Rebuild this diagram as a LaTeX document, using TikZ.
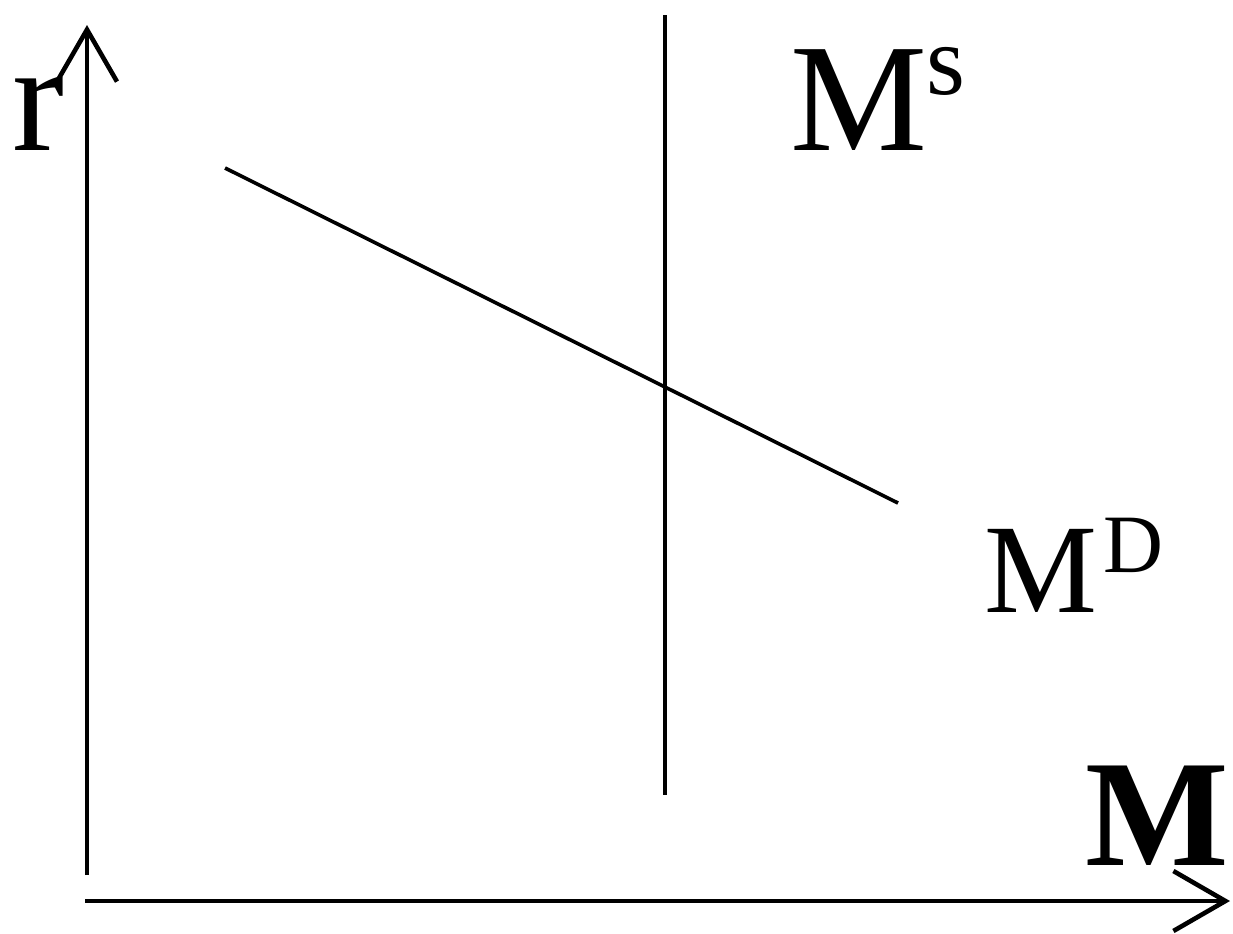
\documentclass[tikz,border=0pt]{standalone}
\usepackage{fontspec}
\setmainfont{Liberation Serif}
\usetikzlibrary{arrows.meta}

\begin{document}
\begin{tikzpicture}[x=0.5pt,y=-0.5pt,>={Straight Barb[length=26pt,width=30pt]},
  axis/.style={line width=2.3pt,->},
  curve/.style={line width=1.8pt},
  lbl/.style={anchor=base west,inner sep=0pt,outer sep=0pt}]
  \useasboundingbox (0,0) rectangle (1233,933);

  % axes
  \coordinate (ybot) at (87,875);
  \coordinate (ytop) at (87,25);
  \coordinate (xleft) at (85,901);
  \coordinate (xright) at (1230,901);
  \draw[axis] (ybot) -- (ytop);
  \draw[axis] (xleft) -- (xright);

  % money supply and demand
  \coordinate (ms1) at (665,15);
  \coordinate (ms2) at (665,795);
  \coordinate (md1) at (225,168);
  \coordinate (md2) at (898,503);
  \draw[curve] (ms1) -- (ms2);
  \draw[curve] (md1) -- (md2);

  % labels
  \node[lbl,font=\fontsize{78}{80}\selectfont] (rlab) at (12,150) {r};
  \node[lbl,font=\fontsize{77}{80}\selectfont] (mslab) at (790,150)
    {M\raisebox{0.36em}{\fontsize{50}{50}\selectfont s}};
  \node[lbl,font=\fontsize{63.5}{66}\selectfont] (mdlab) at (984,612)
    {M\hspace{0.05em}\raisebox{0.31em}{\fontsize{41.5}{42}\selectfont D}};
  \node[lbl,font=\fontsize{76}{80}\selectfont\bfseries] (mlab) at (1085,865) {M};
\end{tikzpicture}
\end{document}
